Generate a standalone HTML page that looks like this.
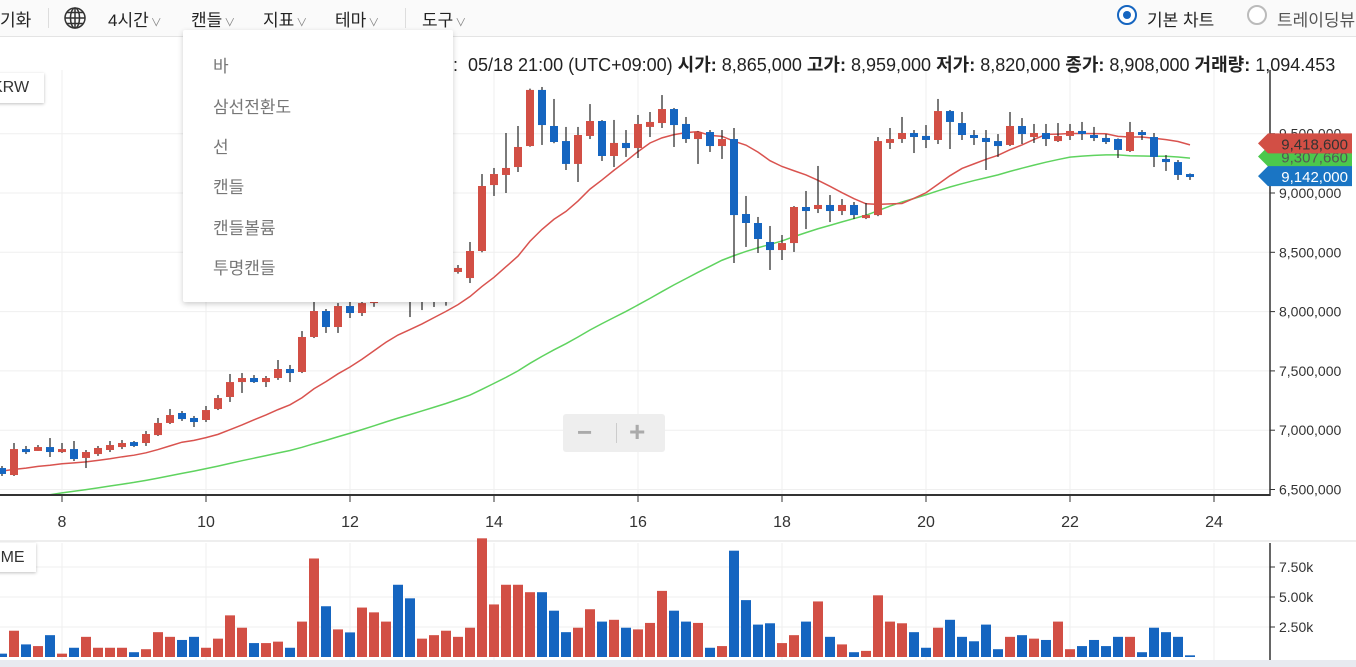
<!DOCTYPE html>
<html><head><meta charset="utf-8"><style>
body{margin:0;width:1356px;height:667px;overflow:hidden;background:#fff;font-family:"Liberation Sans","Noto Sans CJK KR",sans-serif;position:relative}
.tb{position:absolute;left:0;top:0;width:1356px;height:36px;background:#fafafa;border-bottom:1px solid #e4e4e4}
.ti{position:absolute;top:6px;font-size:17px;color:#222}
.car{font-size:11px;color:#888;margin-left:2px}
.sep{position:absolute;top:8px;width:1px;height:20px;background:#ddd}
.info{position:absolute;left:453px;top:51px;font-size:18px;color:#222;white-space:nowrap}
.info b{font-weight:bold}
.dd{position:absolute;left:183px;top:30px;width:270px;height:272px;background:#fff;box-shadow:0 2px 6px rgba(0,0,0,.2);border-radius:2px}
.dd div{position:absolute;left:30px;font-size:17px;color:#777}
.box{position:absolute;background:#fff;box-shadow:0 1px 3px rgba(0,0,0,.25);font-size:16px;color:#333;overflow:hidden;white-space:nowrap}
.box span{position:absolute;top:0}
</style></head><body>
<svg id="chart" width="1356" height="667" style="position:absolute;left:0;top:0">
<defs><clipPath id="pc"><rect x="0" y="70" width="1270" height="425"/></clipPath></defs>
<rect x="0" y="660" width="1356" height="7" fill="#e8eaf0"/>
<line x1="0" y1="541" x2="1356" y2="541" stroke="#ddd"/>
<g id="grid"></g><g id="ma" clip-path="url(#pc)"></g><g id="candles"></g><g id="vol"></g><g id="axes"></g><g id="tags"></g>
</svg>
<div class="tb">
<span class="ti" style="left:0">기화</span>
<div class="sep" style="left:48px"></div>
<svg style="position:absolute;left:63px;top:6px" width="24" height="24" viewBox="0 0 24 24">
<g fill="none" stroke="#333" stroke-width="1.5"><circle cx="12" cy="12" r="10"/><ellipse cx="12" cy="12" rx="4.5" ry="10"/><line x1="12" y1="2" x2="12" y2="22"/><line x1="2" y1="12" x2="22" y2="12"/><path d="M4 6.5H20M4 17.5H20"/></g></svg>
<span class="ti" style="left:108px">4시간<span class="car">∨</span></span>
<span class="ti" style="left:191px">캔들<span class="car">∨</span></span>
<span class="ti" style="left:263px">지표<span class="car">∨</span></span>
<span class="ti" style="left:335px">테마<span class="car">∨</span></span>
<div class="sep" style="left:405px"></div>
<span class="ti" style="left:422px">도구<span class="car">∨</span></span>
<span style="position:absolute;left:1117px;top:5px;width:16px;height:16px;border:2px solid #1565c0;border-radius:50%;background:#fff"><span style="position:absolute;left:4px;top:4px;width:8px;height:8px;border-radius:50%;background:#1565c0"></span></span>
<span class="ti" style="left:1147px">기본 차트</span>
<span style="position:absolute;left:1247px;top:5px;width:16px;height:16px;border:2px solid #bbb;border-radius:50%;background:#fff"></span>
<span class="ti" style="left:1277px;color:#555">트레이딩뷰</span>
</div>
<div class="info">:&nbsp; 05/18 21:00 (UTC+09:00) <b>시가:</b> 8,865,000 <b>고가:</b> 8,959,000 <b>저가:</b> 8,820,000 <b>종가:</b> 8,908,000 <b>거래량:</b> 1,094.453</div>
<div class="box" style="left:-10px;top:73px;width:54px;height:30px;line-height:30px"><span style="left:2px">KRW</span></div>
<div class="box" style="left:-10px;top:543px;width:46px;height:29px;line-height:29px"><span style="left:-33px">VOLUME</span></div>
<div style="position:absolute;left:563px;top:414px;width:102px;height:38px;background:#eee;border-radius:3px">
<span style="position:absolute;left:14px;top:3px;font-size:26px;color:#aaa;font-weight:bold">−</span>
<span style="position:absolute;left:53px;top:9px;width:1px;height:20px;background:#ccc"></span>
<span style="position:absolute;left:66px;top:2px;font-size:28px;color:#aaa;font-weight:bold">+</span>
</div>
<div class="dd">
<div style="top:22px">바</div>
<div style="top:63px">삼선전환도</div>
<div style="top:103px">선</div>
<div style="top:143px">캔들</div>
<div style="top:184px">캔들볼륨</div>
<div style="top:224px">투명캔들</div>
</div>
<script>
const opens=[6681,6622,6841,6825,6858,6816,6841,6766,6799,6833,6858,6900,6892,6959,7061,7145,7103,7086,7179,7280,7406,7440,7406,7440,7516,7491,7786,8005,7870,8047,7988,8072,8150,8250,8180,8100,8150,8180,8334,8283,8511,9067,9152,9219,9396,9869,9565,9438,9245,9481,9607,9312,9422,9379,9557,9590,9708,9582,9455,9514,9396,9455,8823,8747,8587,8519,8578,8882,8865,8899,8848,8899,8789,8814,9422,9455,9506,9481,9447,9691,9590,9489,9464,9438,9405,9565,9472,9506,9438,9481,9523,9489,9464,9455,9354,9514,9472,9287,9261,9160];
const highs=[6698,6892,6867,6875,6934,6892,6909,6833,6867,6909,6917,6909,6993,7103,7179,7162,7120,7204,7297,7474,7482,7465,7457,7592,7550,7836,8098,8022,8072,8081,8115,8200,8300,8280,8220,8190,8240,8270,8393,8587,9160,9211,9506,9565,9880,9894,9793,9557,9557,9750,9615,9616,9531,9658,9683,9826,9717,9641,9520,9531,9531,9548,8975,8798,8722,8646,8890,9017,9228,8983,8949,8924,8916,9472,9548,9641,9531,9573,9793,9700,9683,9531,9531,9497,9683,9632,9582,9582,9590,9582,9599,9557,9497,9460,9599,9531,9506,9320,9278,9165];
const lows=[6614,6614,6799,6825,6774,6808,6740,6681,6783,6816,6841,6858,6867,6951,7052,7078,7027,7069,7170,7238,7314,7398,7364,7424,7406,7482,7777,7820,7820,7946,7963,8040,8120,8140,7954,8013,8039,8050,8320,8241,8500,8975,9000,9177,9390,9405,9420,9194,9093,9455,9270,9219,9304,9295,9472,9548,9388,9422,9245,9346,9287,8410,8545,8494,8351,8435,8503,8696,8831,8755,8814,8781,8780,8805,9371,9422,9337,9379,9413,9371,9447,9405,9194,9304,9396,9413,9422,9396,9430,9447,9447,9438,9413,9295,9346,9447,9219,9186,9110,9110];
const closes=[6631,6841,6816,6858,6816,6841,6757,6816,6850,6875,6892,6867,6968,7061,7128,7094,7069,7170,7271,7406,7440,7406,7440,7516,7482,7786,8005,7870,8047,7988,8072,8150,8250,8180,8100,8150,8200,8230,8368,8511,9059,9160,9211,9388,9869,9573,9430,9245,9489,9607,9312,9422,9379,9582,9599,9708,9573,9455,9514,9396,9455,8814,8747,8612,8519,8578,8882,8848,8899,8848,8899,8814,8814,9438,9455,9506,9472,9447,9691,9599,9489,9464,9430,9396,9565,9497,9506,9455,9481,9523,9506,9464,9430,9363,9514,9489,9304,9261,9152,9142];
const volumes=[280,2190,1050,910,1820,280,770,1680,770,770,770,400,650,2070,1680,1420,1680,770,1530,3470,2440,1160,1160,1280,770,2950,8210,4230,2300,2050,4120,3720,2950,6020,4890,1530,1820,2190,1680,2440,9890,4380,6020,6020,5400,5400,3860,2070,2440,3980,2950,3100,2440,2300,2840,5510,3860,2950,2840,770,910,8860,4740,2700,2810,1160,1820,2950,4630,1680,1050,400,510,5140,2950,2810,2070,770,2440,3100,1680,1310,2700,650,1680,1820,1530,1420,2950,650,910,1420,910,1680,1680,400,2440,2070,1680,140];
const historyCloses=[6020,6060,6040,6080,6070,6080,6090,6120,6100,6130,6110,6090,6120,6140,6110,6100,6130,6200,6260,6300,6350,6380,6400,6420,6450,6480,6470,6500,6520,6540,6560,6580,6600,6610,6620,6630,6650,6640,6670,6660,6650,6680,6660,6670,6650,6660,6670,6650,6660];
const priceTicks=[6500000,7000000,7500000,8000000,8500000,9000000,9500000];
const dayTicks=[8,10,12,14,16,18,20,22,24];
const volTicks=[2500,5000,7500];
const volTickLabels=["2.50k","5.00k","7.50k"];
const lastTags=[{v:9307660,c:"#4cc84c",t:"#555"},{v:9418600,c:"#d24f45",t:"#333"},{v:9142000,c:"#1a75c4",t:"#fff"}];

const NS="http://www.w3.org/2000/svg";
const yP=p=>193-(p-9000000)*59.3/500000;
const xI=i=>2+12*i;
const xDay=d=>62+(d-8)*72;
const yV=v=>657-v*30/2500;
function mk(tag,attrs,parent){const e=document.createElementNS(NS,tag);for(const k in attrs)e.setAttribute(k,attrs[k]);parent.appendChild(e);return e;}
const G=id=>document.getElementById(id);
for(const p of priceTicks){const l=mk('line',{x1:0,x2:1270,y1:yP(p),y2:yP(p),stroke:'#efefef'},G('grid'));

}
for(const d of dayTicks){const l=mk('line',{x1:xDay(d),x2:xDay(d),y1:70,y2:495,stroke:'#efefef'},G('grid'));


const l2=mk('line',{x1:xDay(d),x2:xDay(d),y1:543,y2:660,stroke:'#efefef'},G('grid'));

}
for(const v of volTicks){const l=mk('line',{x1:0,x2:1270,y1:yV(v),y2:yV(v),stroke:'#efefef'},G('grid'));

}
const all=historyCloses.concat(closes),H=historyCloses.length;
function ma(n){const out=[];for(let i=0;i<closes.length;i++){let s=0;for(let k=0;k<n;k++)s+=all[H+i-k];out.push(s/n*1000);}return out;}
const ma15=ma(15),ma50=ma(50);
const g=mk('polyline',{points:ma50.map((v,i)=>xI(i)+','+yP(v)).join(' '),fill:'none',stroke:'#5fd35f','stroke-width':1.5},G('ma'));


const r=mk('polyline',{points:ma15.map((v,i)=>xI(i)+','+yP(v)).join(' '),fill:'none',stroke:'#d9534f','stroke-width':1.5},G('ma'));


const RED='#d24f45',BLUE='#1565c0';
for(let i=0;i<closes.length;i++){
 const o=opens[i]*1000,c=closes[i]*1000,h=highs[i]*1000,l=lows[i]*1000,up=c>=o,x=xI(i);
 const w=mk('line',{x1:x,x2:x,y1:yP(h),y2:yP(l),stroke:'#222','stroke-width':1.2},G('candles'));
 
 
 const top=yP(Math.max(o,c)),bh=Math.max(3,yP(Math.min(o,c))-top);
 const b=mk('rect',{x:x-4,y:top,width:8,height:bh,fill:up?RED:BLUE},G('candles'));
 
 
 const vb=mk('rect',{x:x-5,y:yV(volumes[i]),width:10,height:657-yV(volumes[i]),fill:up?RED:BLUE},G('vol'));
 
 
}
const A=G('axes');
mk('line',{x1:0,x2:1270,y1:495,y2:495,stroke:'#333','stroke-width':2},A);
mk('line',{x1:1270,x2:1270,y1:70,y2:496,stroke:'#333','stroke-width':1.5},A);
mk('line',{x1:1270,x2:1270,y1:543,y2:660,stroke:'#333','stroke-width':1.5},A);
for(const p of priceTicks){mk('line',{x1:1270,x2:1275,y1:yP(p),y2:yP(p),stroke:'#333'},A);
 const t=mk('text',{x:1279,y:yP(p)+5,'font-size':14,fill:'#333','font-family':'Liberation Sans'},A);t.textContent=p.toLocaleString('en-US');
 
 }
for(const d of dayTicks){mk('line',{x1:xDay(d),x2:xDay(d),y1:495,y2:502,stroke:'#333'},A);
 const t=mk('text',{x:xDay(d),y:527,'font-size':16,fill:'#333','text-anchor':'middle','font-family':'Liberation Sans'},A);t.textContent=d;
 
 }
volTicks.forEach((v,k)=>{mk('line',{x1:1270,x2:1275,y1:yV(v),y2:yV(v),stroke:'#333'},A);
 const t=mk('text',{x:1279,y:yV(v)+5,'font-size':14,fill:'#333','font-family':'Liberation Sans'},A);t.textContent=volTickLabels[k];
 
 });
for(const tg of lastTags){const y=yP(tg.v);
 const p=mk('polygon',{points:`1258,${y} 1268,${y-10} 1352,${y-10} 1352,${y+10} 1268,${y+10}`,fill:tg.c},G('tags'));
 
 
 const t=mk('text',{x:1348,y:y+6,'font-size':15,fill:tg.t,'text-anchor':'end','font-family':'Liberation Sans'},G('tags'));t.textContent=tg.v.toLocaleString('en-US');
 
 }
</script>
</body></html>
